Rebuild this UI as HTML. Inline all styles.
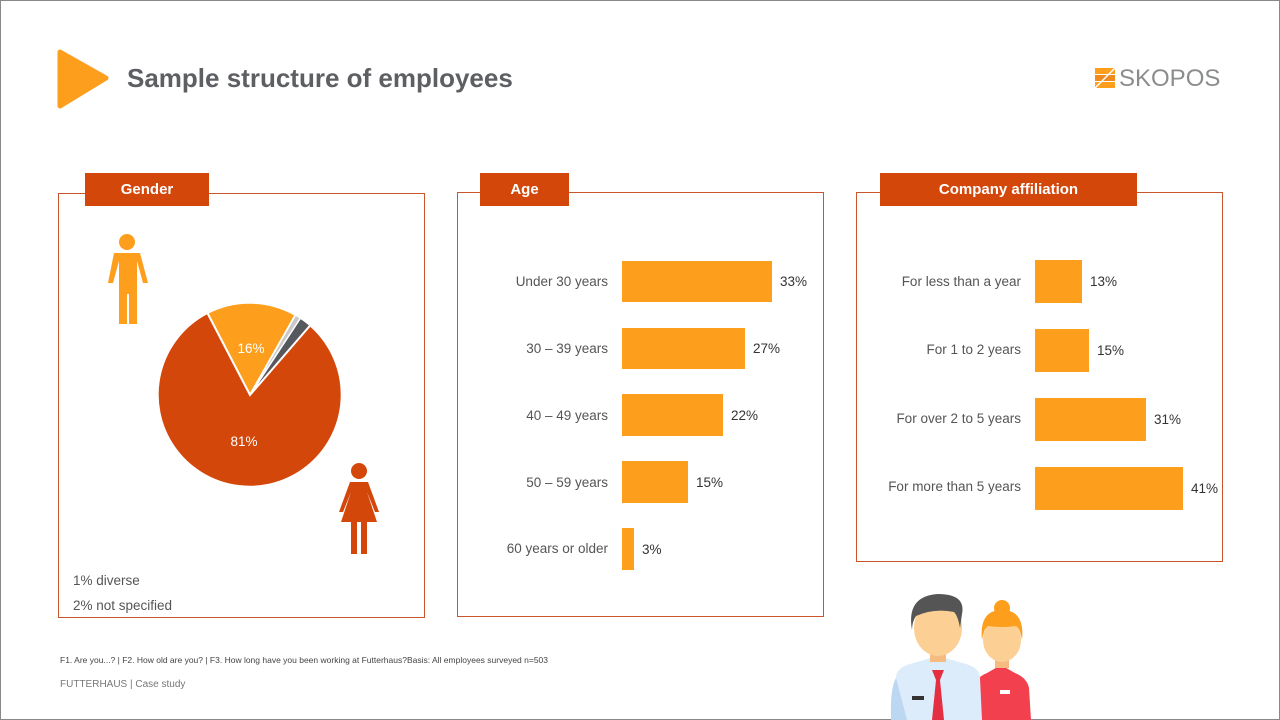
<!DOCTYPE html>
<html><head><meta charset="utf-8"><style>
body{margin:0;width:1280px;height:720px;overflow:hidden;background:#fff;font-family:"Liberation Sans",sans-serif;}
.slide{position:absolute;left:0;top:0;width:1278px;height:718px;border:1px solid #888;}
.abs{position:absolute}
.box{position:absolute;border:1px solid #c9552a;box-sizing:border-box;}
.tab{position:absolute;background:#d4470a;color:#fff;font-weight:bold;font-size:15px;text-align:center;line-height:33px;height:33px;}
.lbl{position:absolute;font-size:13.5px;color:#555;text-align:right;}
.bar{position:absolute;background:#fd9e1d;}
.val{position:absolute;font-size:13.5px;color:#333;}
</style></head><body><div class="slide"></div>
<svg class="abs" style="left:56px;top:48px" width="56" height="62"><path d="M4 4 L50 30 L4 58 Z" fill="#fd9e1d" stroke="#fd9e1d" stroke-width="5" stroke-linejoin="round"/></svg>
<div class="abs" style="left:127px;top:63px;font-size:26px;font-weight:bold;color:#5d5f63;">Sample structure of employees</div>
<svg class="abs" style="left:1095px;top:68px" width="22" height="22"><rect x="0" y="0" width="20" height="6" fill="#fd9e1d"/><rect x="0" y="7" width="20" height="6" fill="#f08a1c"/><rect x="0" y="14" width="20" height="6" fill="#fd9e1d"/><line x1="0" y1="20" x2="20" y2="0" stroke="#fff" stroke-width="1.5"/></svg>
<div class="abs" style="left:1119px;top:65px;font-size:24px;color:#8a8c8e;">SKOPOS</div>

<div class="box" style="left:58px;top:193px;width:367px;height:425px"></div>
<div class="tab" style="left:85px;top:173px;width:124px">Gender</div>
<div class="box" style="left:457px;top:192px;width:367px;height:425px"></div>
<div class="tab" style="left:480px;top:173px;width:89px">Age</div>
<div class="box" style="left:856px;top:192px;width:367px;height:370px"></div>
<div class="tab" style="left:880px;top:173px;width:257px">Company affiliation</div>

<svg class="abs" style="left:0;top:0" width="450" height="620">
<g transform="translate(250,395)">
<path d="M0 0 L-42.6 -82.0 A92 92 0 0 1 45.5 -80.0 Z" fill="#fd9e1d" stroke="#fff" stroke-width="2"/>
<path d="M0 0 L45.5 -80.0 A92 92 0 0 1 50.5 -76.9 Z" fill="#c9c9c9" stroke="#fff" stroke-width="1.5"/>
<path d="M0 0 L50.5 -76.9 A92 92 0 0 1 60.2 -69.6 Z" fill="#55585c" stroke="#fff" stroke-width="1.5"/>
<path d="M0 0 L60.2 -69.6 A92 92 0 1 1 -42.6 -82.0 Z" fill="#d4470a" stroke="#fff" stroke-width="2"/>
<text x="1" y="-42" fill="#fff" font-size="13.5" text-anchor="middle">16%</text>
<text x="-6" y="51" fill="#fff" font-size="13.5" text-anchor="middle">81%</text>
</g>
<g fill="#fd9e1d"><circle cx="127" cy="242" r="8"/><path d="M114 253 h26 l8 30 h-5 l-6 -22 v63 h-8 v-30 h-2 v30 h-8 v-63 l-6 22 h-5 z"/></g>
<g fill="#d4470a"><circle cx="359" cy="471" r="8"/><path d="M350 482 h18 l11 30 h-4 l-8 -20 l10 30 h-10 v32 h-6 v-32 h-4 v32 h-6 v-32 h-10 l10 -30 l-8 20 h-4 z"/></g>
</svg>
<div class="abs" style="left:73px;top:568px;font-size:13.5px;color:#555;line-height:25px">1% diverse<br>2% not specified</div>

<div class="lbl" style="left:460px;width:148px;top:274px">Under 30 years</div>
<div class="bar" style="left:622px;top:261px;width:150px;height:41px"></div><div class="val" style="left:780px;top:274px">33%</div>
<div class="lbl" style="left:460px;width:148px;top:341px">30 – 39 years</div>
<div class="bar" style="left:622px;top:328px;width:123px;height:41px"></div><div class="val" style="left:753px;top:341px">27%</div>
<div class="lbl" style="left:460px;width:148px;top:408px">40 – 49 years</div>
<div class="bar" style="left:622px;top:394px;width:101px;height:42px"></div><div class="val" style="left:731px;top:408px">22%</div>
<div class="lbl" style="left:460px;width:148px;top:475px">50 – 59 years</div>
<div class="bar" style="left:622px;top:461px;width:66px;height:42px"></div><div class="val" style="left:696px;top:475px">15%</div>
<div class="lbl" style="left:460px;width:148px;top:541px">60 years or older</div>
<div class="bar" style="left:622px;top:528px;width:12px;height:42px"></div><div class="val" style="left:642px;top:542px">3%</div>

<div class="lbl" style="left:860px;width:161px;top:274px">For less than a year</div>
<div class="bar" style="left:1035px;top:260px;width:47px;height:43px"></div><div class="val" style="left:1090px;top:274px">13%</div>
<div class="lbl" style="left:860px;width:161px;top:342px">For 1 to 2 years</div>
<div class="bar" style="left:1035px;top:329px;width:54px;height:43px"></div><div class="val" style="left:1097px;top:343px">15%</div>
<div class="lbl" style="left:860px;width:161px;top:411px">For over 2 to 5 years</div>
<div class="bar" style="left:1035px;top:398px;width:111px;height:43px"></div><div class="val" style="left:1154px;top:412px">31%</div>
<div class="lbl" style="left:860px;width:161px;top:479px">For more than 5 years</div>
<div class="bar" style="left:1035px;top:467px;width:148px;height:43px"></div><div class="val" style="left:1191px;top:481px">41%</div>

<svg class="abs" style="left:880px;top:590px" width="160" height="130">
<path d="M93 98 q2 -10 14 -15 l14 -8 l14 8 q12 5 14 15 l2 32 h-58 z" fill="#f2404f"/>
<rect x="115" y="60" width="14" height="18" fill="#f5bb80"/>
<ellipse cx="122" cy="50" rx="19" ry="22" fill="#fccf95"/>
<path d="M102 50 q-3 -30 20 -30 q23 0 20 30 q-2 -12 -6 -14 q-14 2 -28 0 q-4 2 -6 14z" fill="#fd9e1d"/>
<circle cx="122" cy="18" r="8" fill="#fd9e1d"/>
<rect x="120" y="100" width="10" height="4" fill="#fff"/>
<path d="M16 88 q0 -10 14 -14 l28 -8 l28 8 q14 4 14 14 l2 42 h-86 z" fill="#dcecfa"/>
<path d="M16 88 q-6 10 -5 42 h16 z" fill="#bcd7f2"/>
<rect x="50" y="50" width="16" height="22" fill="#f5bb80"/>
<ellipse cx="58" cy="38" rx="24" ry="28" fill="#fccf95"/>
<path d="M32 40 q-6 -34 26 -36 q28 0 24 20 l-2 14 q-2 -12 -6 -16 q-20 -4 -38 4 q-4 6 -4 14z" fill="#555"/>
<path d="M52 80 l4 10 l-4 40 h12 l-4 -40 l4 -10z" fill="#e42f43"/>
<rect x="32" y="106" width="12" height="4" fill="#333"/>
</svg>

<div class="abs" style="left:60px;top:655px;font-size:8.5px;color:#444">F1. Are you...? | F2. How old are you? | F3. How long have you been working at Futterhaus?Basis: All employees surveyed n=503</div>
<div class="abs" style="left:60px;top:679px;font-size:10px;color:#777">FUTTERHAUS | Case study</div>
</body></html>
